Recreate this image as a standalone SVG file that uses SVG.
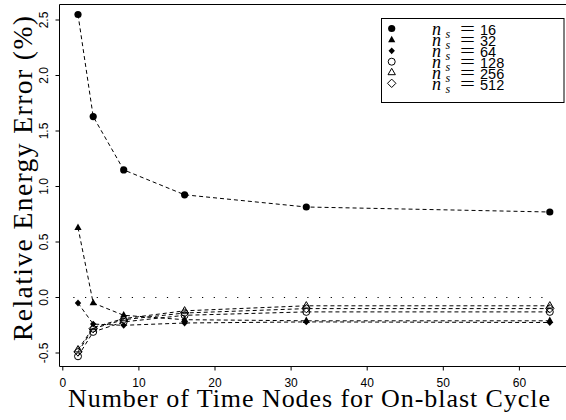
<svg xmlns="http://www.w3.org/2000/svg" xmlns:xlink="http://www.w3.org/1999/xlink" width="566" height="420" viewBox="0 0 566 420">
<style>
.ax{stroke:#000;stroke-width:1;fill:none}
.tl{font-family:"Liberation Sans",Arial,sans-serif;font-size:12px;fill:#000}
.ttl{font-family:"Liberation Serif","Times New Roman",serif;fill:#000}
.ser{stroke:#000;stroke-width:1;fill:none;stroke-dasharray:4,3}
.zero{stroke:#000;stroke-width:1.2;fill:none;stroke-dasharray:1.2,10.5}
.mi{font-family:"Liberation Serif","Times New Roman",serif;font-style:italic;fill:#000}
.eq{font-family:"Liberation Serif","Times New Roman",serif;fill:#000}
.num{font-family:"Liberation Sans",Arial,sans-serif;font-size:14.5px;fill:#000}
</style>
<defs>
<circle id="fc" r="3.6" fill="#000"/>
<path id="ft" d="M0,-4.2 L3.6,2.3 L-3.6,2.3 Z" fill="#000"/>
<path id="fd" d="M0,-3.4 L3.2,0 L0,3.4 L-3.2,0 Z" fill="#000"/>
<circle id="oc" r="3.5" fill="none" stroke="#000" stroke-width="1"/>
<path id="ot" d="M0,-4.2 L3.7,2.2 L-3.7,2.2 Z" fill="none" stroke="#000" stroke-width="1"/>
<path id="od" d="M0,-4.2 L4.2,0 L0,4.2 L-4.2,0 Z" fill="none" stroke="#000" stroke-width="1"/>
</defs>
<rect width="566" height="420" fill="#fff"/>
<g id="frame">
<path class="ax" d="M567,4.5 H59.5 V366.5 H567"/>
</g>
<g id="xaxis">
<path class="ax" d="M62.8,366.5 V370.5 M138.9,366.5 V370.5 M215,366.5 V370.5 M291.1,366.5 V370.5 M367.2,366.5 V370.5 M443.3,366.5 V370.5 M519.4,366.5 V370.5"/>
<text class="tl" text-anchor="middle" x="62.8" y="386.5">0</text>
<text class="tl" text-anchor="middle" x="138.9" y="386.5">10</text>
<text class="tl" text-anchor="middle" x="215" y="386.5">20</text>
<text class="tl" text-anchor="middle" x="291.1" y="386.5">30</text>
<text class="tl" text-anchor="middle" x="367.2" y="386.5">40</text>
<text class="tl" text-anchor="middle" x="443.3" y="386.5">50</text>
<text class="tl" text-anchor="middle" x="519.4" y="386.5">60</text>
<text class="ttl" x="68" y="406.5" font-size="26" textLength="482" lengthAdjust="spacing">Number of Time Nodes for On-blast Cycle</text>
</g>
<g id="yaxis">
<path class="ax" d="M59.5,353 H55.5 M59.5,297.5 H55.5 M59.5,242 H55.5 M59.5,186.5 H55.5 M59.5,131 H55.5 M59.5,75.5 H55.5 M59.5,20 H55.5"/>
<text class="tl" text-anchor="middle" transform="translate(48,353) rotate(-90)">-0.5</text>
<text class="tl" text-anchor="middle" transform="translate(48,297.5) rotate(-90)">0.0</text>
<text class="tl" text-anchor="middle" transform="translate(48,242) rotate(-90)">0.5</text>
<text class="tl" text-anchor="middle" transform="translate(48,186.5) rotate(-90)">1.0</text>
<text class="tl" text-anchor="middle" transform="translate(48,131) rotate(-90)">1.5</text>
<text class="tl" text-anchor="middle" transform="translate(48,75.5) rotate(-90)">2.0</text>
<text class="tl" text-anchor="middle" transform="translate(48,20) rotate(-90)">2.5</text>
<text class="ttl" font-size="27.5" text-anchor="middle" transform="translate(32,178.5) rotate(-90)" textLength="325" lengthAdjust="spacing">Relative Energy Error (%)</text>
</g>
<g id="connectors">
<path class="zero" d="M73.3,297.5 H552"/>
<polyline class="ser" points="78,14.5 93.2,116.6 123.7,169.9 184.6,194.8 306.3,207 549.8,212"/>
<polyline class="ser" points="78,227.6 93.2,303 123.7,315.3 184.6,319.7 306.3,320.8 549.8,320.8"/>
<polyline class="ser" points="78,303 93.2,324.1 123.7,325.3 184.6,323 306.3,321.9 549.8,322.5"/>
<polyline class="ser" points="78,356.3 93.2,331.9 123.7,321.9 184.6,315.3 306.3,311.9 549.8,311.9"/>
<polyline class="ser" points="78,349.7 93.2,327.5 123.7,318.6 184.6,310.8 306.3,305.8 549.8,305.8"/>
<polyline class="ser" points="78,351.9 93.2,328.6 123.7,319.7 184.6,313 306.3,308.6 549.8,308.6"/>
</g>
<g id="s16">
<use href="#fc" x="78" y="14.5"/><use href="#fc" x="93.2" y="116.6"/><use href="#fc" x="123.7" y="169.9"/><use href="#fc" x="184.6" y="194.8"/><use href="#fc" x="306.3" y="207"/><use href="#fc" x="549.8" y="212"/>
</g>
<g id="s32">
<use href="#ft" x="78" y="227.6"/><use href="#ft" x="93.2" y="303"/><use href="#ft" x="123.7" y="315.3"/><use href="#ft" x="184.6" y="319.7"/><use href="#ft" x="306.3" y="320.8"/><use href="#ft" x="549.8" y="320.8"/>
</g>
<g id="s64">
<use href="#fd" x="78" y="303"/><use href="#fd" x="93.2" y="324.1"/><use href="#fd" x="123.7" y="325.3"/><use href="#fd" x="184.6" y="323"/><use href="#fd" x="306.3" y="321.9"/><use href="#fd" x="549.8" y="322.5"/>
</g>
<g id="s128">
<use href="#oc" x="78" y="356.3"/><use href="#oc" x="93.2" y="331.9"/><use href="#oc" x="123.7" y="321.9"/><use href="#oc" x="184.6" y="315.3"/><use href="#oc" x="306.3" y="311.9"/><use href="#oc" x="549.8" y="311.9"/>
</g>
<g id="s256">
<use href="#ot" x="78" y="349.7"/><use href="#ot" x="93.2" y="327.5"/><use href="#ot" x="123.7" y="318.6"/><use href="#ot" x="184.6" y="310.8"/><use href="#ot" x="306.3" y="305.8"/><use href="#ot" x="549.8" y="305.8"/>
</g>
<g id="s512">
<use href="#od" x="78" y="351.9"/><use href="#od" x="93.2" y="328.6"/><use href="#od" x="123.7" y="319.7"/><use href="#od" x="184.6" y="313"/><use href="#od" x="306.3" y="308.6"/><use href="#od" x="549.8" y="308.6"/>
</g>
<g id="legend">
<rect x="381.5" y="18.5" width="182.5" height="84" fill="#fff" stroke="#000" stroke-width="1"/>
<use href="#fc" x="391.7" y="28.5"/>
<use href="#ft" x="391.7" y="40"/>
<use href="#fd" x="391.7" y="50.8"/>
<use href="#oc" x="391.7" y="61.7"/>
<use href="#ot" x="391.7" y="72.5"/>
<use href="#od" x="391.7" y="83.3"/>
<g font-size="18">
<text class="mi" x="432" y="35">n</text><text class="mi" x="445.5" y="38" font-size="12">s</text><text class="eq" x="460" y="35" font-size="18" textLength="15" lengthAdjust="spacingAndGlyphs">=</text><text class="num" x="480" y="35">16</text>
<text class="mi" x="432" y="46">n</text><text class="mi" x="445.5" y="49" font-size="12">s</text><text class="eq" x="460" y="46" font-size="18" textLength="15" lengthAdjust="spacingAndGlyphs">=</text><text class="num" x="480" y="46">32</text>
<text class="mi" x="432" y="57">n</text><text class="mi" x="445.5" y="60" font-size="12">s</text><text class="eq" x="460" y="57" font-size="18" textLength="15" lengthAdjust="spacingAndGlyphs">=</text><text class="num" x="480" y="57">64</text>
<text class="mi" x="432" y="68">n</text><text class="mi" x="445.5" y="71" font-size="12">s</text><text class="eq" x="460" y="68" font-size="18" textLength="15" lengthAdjust="spacingAndGlyphs">=</text><text class="num" x="480" y="68">128</text>
<text class="mi" x="432" y="79">n</text><text class="mi" x="445.5" y="82" font-size="12">s</text><text class="eq" x="460" y="79" font-size="18" textLength="15" lengthAdjust="spacingAndGlyphs">=</text><text class="num" x="480" y="79">256</text>
<text class="mi" x="432" y="90">n</text><text class="mi" x="445.5" y="93" font-size="12">s</text><text class="eq" x="460" y="90" font-size="18" textLength="15" lengthAdjust="spacingAndGlyphs">=</text><text class="num" x="480" y="90">512</text>
</g>
</g>
</svg>
